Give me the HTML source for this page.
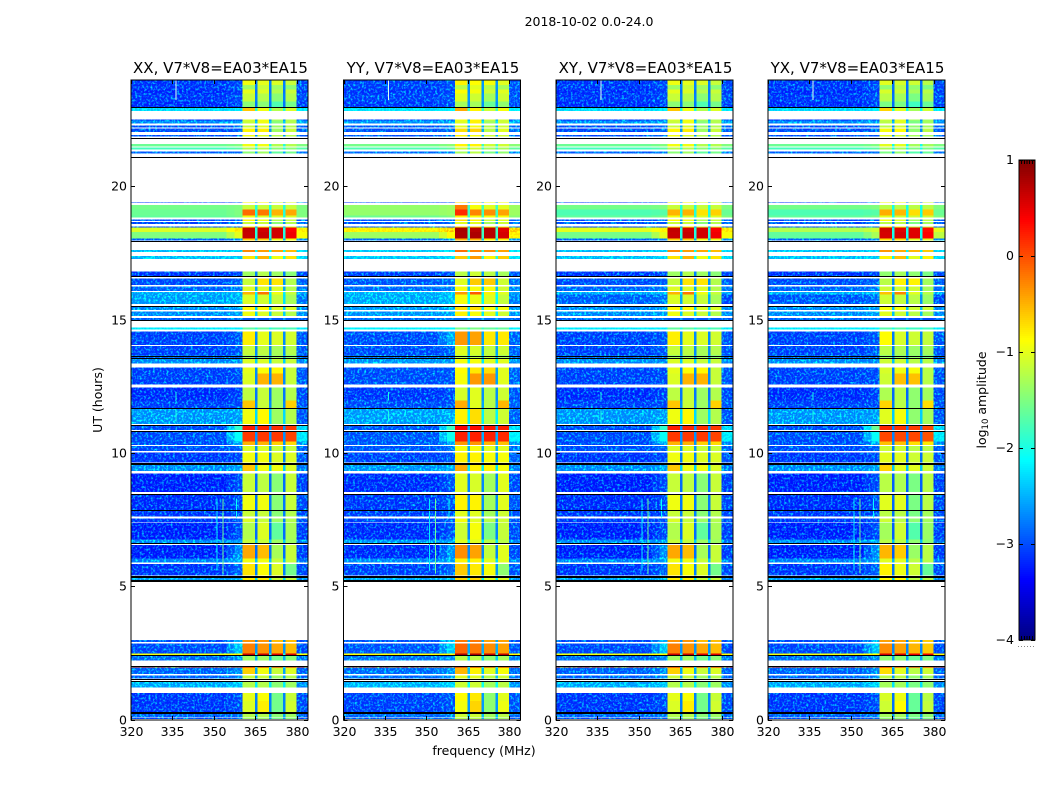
<!DOCTYPE html>
<html><head><meta charset="utf-8"><title>2018-10-02 amplitude waterfall</title>
<style>html,body{margin:0;padding:0;background:#fff}svg{display:block}text{font-family:"DejaVu Sans","Liberation Sans",sans-serif;fill:#000}</style>
</head><body>
<svg id="fig" width="1050" height="800" viewBox="0 0 1050 800" xmlns="http://www.w3.org/2000/svg">
<defs>
<filter id="speckle" x="0" y="0" width="100%" height="100%" color-interpolation-filters="sRGB">
<feTurbulence type="fractalNoise" baseFrequency="0.45" numOctaves="2" seed="4" result="n"/>
<feColorMatrix in="n" type="matrix" values="0 0 0 0 0  2 0 0 0 -0.92  0 0 0 0 0  0 0 0 0 1" result="g"/>
<feComposite in="SourceGraphic" in2="g" operator="arithmetic" k2="1" k3="1" result="sum"/>
<feComposite in="sum" in2="SourceGraphic" operator="in"/>
</filter>
</defs>
<text x="589" y="26" font-size="12.5" text-anchor="middle">2018-10-02 0.0-24.0</text>
<text x="484" y="755" font-size="12.5" text-anchor="middle">frequency (MHz)</text>
<text x="0" y="0" font-size="12.5" text-anchor="middle" transform="translate(102,400) rotate(-90)">UT (hours)</text>
<text x="0" y="0" font-size="12.5" text-anchor="middle" transform="translate(986,400) rotate(-90)">log<tspan font-size="8.5" dy="2">10</tspan><tspan dy="-2"> amplitude</tspan></text>
</svg>
<script>
const panelTitles = ['XX, V7*V8=EA03*EA15','YY, V7*V8=EA03*EA15','XY, V7*V8=EA03*EA15','YX, V7*V8=EA03*EA15'];
const xTicks = [320,335,350,365,380];
const yTicks = [0,5,10,15,20];
const colorTicks = [1,0,-1,-2,-3,-4];
const panelBgOffset = [0,0.05,0,0];
const panelBandOffset = [-0.05,0.08,-0.05,-0.12];
const freqEdges = [320,354.5,357.4,360.4,364.8,365.7,369.9,370.8,375,375.9,379.9,384];
// start hour, end hour, log10 amplitude: background, near-band, sub-band 1-4, right edge
const utRows = [
[23.81,24,-3.2,-3.1,-0.9,-0.95,-1,-1.1,-3.1],
[23.65,23.81,-3.2,-3.1,-1.3,-1.1,-1.3,-1.4,-3.1],
[23.5,23.65,-3.25,-3.15,-0.95,-1,-1.2,-1.1,-3.15],
[23.2,23.5,-3.2,-3.1,-1.1,-1.2,-1.4,-1.2,-3.1],
[22.98,23.2,-3.25,-3.15,-1.4,-1.4,-1.7,-1.5,-3.15],
[22.84,22.96,-2.4,-2.3,-0.55,-0.9,-1.2,-1,-2.3],
[22.475,22.525,-3.2,-3.1,-1,-0.9,-1.2,-1.2,-3.1],
[22.36,22.475,-2.8,-2.7,-1.1,-0.9,-1.4,-1.2,-2.7],
[22.225,22.3,-3.1,-3,-1.1,-1,-1.3,-1.2,-3],
[22.05,22.175,-3.1,-3,-0.8,-0.75,-1.3,-1.1,-3],
[21.89,21.94,-3.1,-3,-0.9,-1,-1.2,-1.2,-3],
[21.51,21.6,-1.6,-1.5,-0.9,-0.9,-1.2,-1.2,-1.5],
[21.4,21.475,-1.8,-1.7,-1.2,-1.2,-1.4,-1.4,-1.7],
[21.24,21.325,-3,-2.9,-1.4,-1.3,-1.6,-1.5,-2.9],
[19.38,19.41,-3.2,-3.1,-0.8,-0.8,-1,-1,-3],
[19.15,19.31,-1.55,-1.5,-1.1,-1.1,-1.1,-1.1,-1.5],
[18.91,19.15,-1.6,-1.5,-0.1,-0.15,-0.45,-0.4,-1.5],
[18.85,18.91,-1.65,-1.55,-0.9,-1,-1,-1,-1.5],
[18.72,18.76,-3.1,-3,-0.8,-0.9,-1.2,-1.1,-3],
[18.6,18.675,-3.1,-3,-1.1,-1.1,-1.4,-1.2,-3],
[18.475,18.51,-3.1,-3,-0.8,-0.8,-1,-1,-3],
[18.3,18.475,-1.05,-0.7,0.72,0.65,0.65,0.45,-0.75],
[18.05,18.3,-1.5,-1,0.7,0.7,0.65,0.5,-0.9],
[17.975,18.05,-3,-2.8,-0.6,-0.6,-0.9,-0.9,-2.8],
[17.55,17.625,-2.55,-2.45,-0.25,-0.35,-0.4,-0.5,-2.4],
[17.29,17.4,-2.55,-2.45,-0.7,-0.45,-0.9,-0.7,-2.4],
[16.65,16.825,-3.2,-3.1,-1.3,-1.2,-1.3,-1.4,-3.1],
[16.31,16.55,-3.1,-3,-1.1,-0.7,-0.7,-1.2,-3],
[16.09,16.25,-3,-2.9,-1,-1,-1,-1.2,-2.9],
[15.95,16.05,-2.65,-2.55,-0.45,-0.15,-0.9,-1.1,-2.7],
[15.6,15.95,-2.7,-2.6,-1,-1.05,-1.1,-1.25,-2.9],
[15.375,15.5,-2.8,-2.7,-0.8,-0.8,-1,-1,-2.8],
[15.15,15.31,-2.8,-2.7,-0.9,-1,-1.1,-1.2,-2.8],
[14.975,15.08,-3,-2.9,-2.9,-2.9,-2.9,-2.9,-3],
[14.65,14.725,-2.3,-2.25,-1.6,-1.6,-1.7,-1.7,-2.3],
[14.06,14.575,-3.15,-3.05,-0.75,-0.95,-1,-1.05,-3.05],
[13.69,14.025,-3.15,-3.05,-1.1,-1.15,-1.25,-1.2,-3.05],
[13.54,13.69,-3,-3,-1.3,-1.3,-1.3,-1.4,-3],
[13.375,13.54,-2.8,-2.8,-1,-1,-1.1,-1.1,-2.8],
[13,13.225,-3.15,-3.1,-0.95,-0.85,-0.8,-1.1,-3.05],
[12.59,13,-3.15,-3.1,-1,-0.45,-0.45,-1.1,-3.05],
[11.975,12.475,-3.25,-3.15,-1.15,-1.1,-1.3,-1.2,-3.1],
[11.7,11.975,-3.15,-3.1,-0.55,-1.1,-1.3,-0.6,-3.05],
[11.1,11.66,-2.75,-2.7,-0.9,-0.8,-1.3,-1.2,-3.05],
[10.875,11.05,-3.1,-1.9,0.3,0.25,0.2,0.15,-2.4],
[10.44,10.83,-3.1,-2.1,0.15,0.15,0.15,0.1,-2.3],
[10.31,10.44,-3.1,-2.7,-0.45,-0.45,-0.6,-0.65,-2.8],
[10.09,10.27,-3.1,-3,-1,-1,-1.1,-1.1,-3],
[9.65,10.03,-3.2,-3.1,-0.9,-0.9,-1,-1,-3.05],
[9.34,9.56,-2.8,-2.7,-0.55,-0.9,-0.9,-1,-2.9],
[8.55,9.25,-3.3,-3.1,-1.1,-1.15,-1.4,-1.1,-3.15],
[7.875,8.48,-3.25,-3.1,-0.9,-0.9,-1.4,-1.1,-3.1],
[7.63,7.875,-3.2,-3.1,-1.1,-1.1,-1.4,-1.2,-3.1],
[7.43,7.56,-3.2,-3.1,-1,-1.1,-1.3,-1.2,-3.1],
[6.775,7.4,-3.3,-3.1,-1.2,-1,-1.6,-1.25,-3.15],
[6.625,6.775,-2.8,-2.7,-1.1,-1.1,-1.3,-1.3,-2.9],
[6.06,6.56,-3.3,-2.8,-0.4,-0.5,-1.25,-1.1,-3.15],
[5.91,6.06,-2.85,-2.7,-0.9,-0.9,-1.1,-1.1,-2.9],
[5.425,5.85,-3.2,-3,-0.7,-0.85,-1,-1.5,-3.1],
[5.25,5.37,-2.7,-2.6,-0.75,-0.75,-1.1,-1.1,-2.8],
[2.925,3,-3.1,-2.6,-0.3,-0.3,-0.5,-0.5,-3.1],
[2.5,2.875,-3.1,-2.5,-0.2,-0.3,-0.4,-0.5,-3.1],
[2.44,2.5,-0.95,-0.8,0.7,0.7,0.6,0.6,-0.9],
[2.225,2.42,-2.95,-2.8,-1.3,-1.3,-1.5,-1.4,-2.9],
[1.975,2.02,0.05,0.1,0.55,0.55,0.5,0.5,0.1],
[1.72,1.96,-3,-2.8,-0.6,-0.9,-1.1,-1,-3],
[1.56,1.67,-3,-2.8,-1.1,-1.1,-1.3,-1.2,-3],
[1.22,1.42,-2.65,-2.5,-1.2,-1.2,-1.4,-1.3,-2.8],
[0.72,1.01,-3.2,-3.1,-0.95,-0.85,-1.5,-1.1,-3.1],
[0.29,0.72,-3.2,-3.1,-1,-0.75,-1.5,-1.05,-3.1],
[0.12,0.25,-3,-2.9,-1.2,-1.2,-1.4,-1.3,-3],
[0.04,0.1,-3.1,-3,-1.3,-1.3,-1.5,-1.4,-3.1]
];
// per-polarisation replacements: panel index, row start hour, levels (null keeps the shared value)
const overridePanels = [1,1,1,1,1,2,2,2,2,3,3,3,3,3];
const overrideStarts = [18.3,18.05,19.15,18.91,14.06,18.3,18.05,18.91,15.6,18.3,18.05,18.91,15.6,10.875];
const overrideLevels = [
[-0.8,-0.55,null,null,null,null,-0.6],
[-1.4,-0.9,null,null,null,null,-0.8],
[-1.45,-1.4,-0.3,-1,-1.1,-1.1,-1.4],
[-1.45,-1.4,0.1,-0.35,-0.4,-0.5,-1.4],
[null,-2.7,-0.45,-0.5,-0.85,-0.85,null],
[-1,-0.8,null,null,null,null,-0.7],
[-1.55,-1,null,null,null,null,-0.9],
[-1.75,-1.7,-0.45,-0.45,-0.7,-0.6,-1.6],
[-3,-2.9,null,null,null,null,-3.1],
[-1.25,-1.1,null,null,null,null,-1],
[-1.65,-1.3,null,null,null,null,-1.2],
[-1.75,-1.7,-0.35,-0.4,-0.6,-0.5,-1.6],
[-3.05,-2.95,null,null,null,null,-3.1],
[null,-1.6,null,null,null,null,null]
];
// masked (black) integrations: hour centre
const maskedHours = [22.97,21.81,21.11,17.96,16.64,15.54,15,13.66,13.575,11.69,11.075,10.85,8.475,7.86,6.65,2.44,2.02,1.53,1.46];
const maskedThickHours = [9.6,5.375,5.21,0.27];
// narrow RFI spikes: frequency, start hour, end hour, level
const rfiFreqs = [336,336,336,351,353,358];
const rfiStarts = [23.25,11.2,11.98,5.6,5.5,7.6];
const rfiEnds = [24,11.6,12.3,8.3,8.3,8.3];
const rfiLevels = [0.9,-2,-2,-2.2,-1.6,-2.1];

const SVGNS = 'http://www.w3.org/2000/svg';
const fig = document.getElementById('fig');
const panelLeft = [131,343.5,556,768];
const panelWidth = 177, plotTop = 80, plotBottom = 720;
const xScale = (f,p) => panelLeft[p] + (f-320)*panelWidth/64;
const yScale = h => plotBottom - h*(plotBottom-plotTop)/24;
const clamp = v => Math.max(0,Math.min(1,v));
function jet(v){
  const t = clamp((v+4)/5);
  const r = clamp(Math.min(4*t-1.5,-4*t+4.5));
  const g = clamp(Math.min(4*t-0.5,-4*t+3.5));
  const b = clamp(Math.min(4*t+0.5,-4*t+2.5));
  return 'rgb('+Math.round(r*255)+','+Math.round(g*255)+','+Math.round(b*255)+')';
}
function mk(tag,attrs,parent){
  const el = document.createElementNS(SVGNS,tag);
  for(const k in attrs) el.setAttribute(k,attrs[k]);
  (parent||fig).appendChild(el);
  return el;
}
function line(x1,y1,x2,y2,parent){
  return mk('line',{x1,y1,x2,y2,stroke:'#000','stroke-width':1,'shape-rendering':'crispEdges'},parent);
}
function rowLevels(row,p){
  const vals = row.slice(2);
  overridePanels.forEach((op,i)=>{
    if(op===p && overrideStarts[i]===row[0]){
      overrideLevels[i].forEach((v,j)=>{ if(v!==null) vals[j]=v; });
    }
  });
  return vals;
}

panelTitles.forEach((title,p)=>{
  const panel = mk('g',{});
  
  
  const bgGroup = mk('g',{filter:'url(#speckle)'},panel);
  
  
  const bandGroup = mk('g',{},panel);
  
  
  utRows.forEach(row=>{
    const t0=row[0], t1=row[1];
    const v = rowLevels(row,p);
    const bg=v[0], near=v[1], right=v[6];
    const notch = Math.min(bg+0.5,-1.9);
    const levels = [bg,(bg+near)/2,near,v[2],notch,v[3],notch,v[4],notch,v[5],right];
    levels.forEach((lv,c)=>{
      const isBg = (c<=2||c===10);
      const val = lv + (isBg?panelBgOffset[p]:panelBandOffset[p]);
      const x0 = xScale(freqEdges[c],p), x1 = xScale(freqEdges[c+1],p);
      const y0 = yScale(t1), y1 = yScale(t0);
      const cell = mk('rect',{x:x0,y:y0,width:x1-x0,height:y1-y0,fill:jet(val),'shape-rendering':'crispEdges'},isBg?bgGroup:bandGroup);
      
      
    });
  });
  rfiFreqs.forEach((f,i)=>{
    const spike = mk('rect',{x:xScale(f,p),y:yScale(rfiEnds[i]),width:1,height:yScale(rfiStarts[i])-yScale(rfiEnds[i]),fill:rfiLevels[i]>0.5?'#dfe':jet(rfiLevels[i]),'shape-rendering':'crispEdges'},panel);
    
    
  });
  maskedHours.forEach(h=>{
    const bar = mk('rect',{x:panelLeft[p],y:Math.round(yScale(h)),width:panelWidth,height:1,fill:'#000','shape-rendering':'crispEdges'},panel);
    
    
  });
  maskedThickHours.forEach(h=>{
    const bar = mk('rect',{x:panelLeft[p],y:Math.round(yScale(h))-1,width:panelWidth,height:2,fill:'#000','shape-rendering':'crispEdges'},panel);
    
    
  });
  const frame = mk('rect',{x:panelLeft[p],y:plotTop,width:panelWidth,height:plotBottom-plotTop,fill:'none',stroke:'#000','stroke-width':1},panel);
  
  
  xTicks.forEach(t=>{
    const x = Math.round(xScale(t,p))+0.5;
    const a = line(x,plotBottom,x,plotBottom-4,panel);
    
    
    const b = line(x,plotTop,x,plotTop+4,panel);
    
    
    const lab = mk('text',{x:x,y:736,'font-size':12.5,'text-anchor':'middle'},panel);
    lab.textContent = t;
    
    
  });
  yTicks.forEach(t=>{
    const y = Math.floor(yScale(t))+0.5;
    const a = line(panelLeft[p],y,panelLeft[p]+4,y,panel);
    
    
    const b = line(panelLeft[p]+panelWidth,y,panelLeft[p]+panelWidth-4,y,panel);
    
    
    const lab = mk('text',{x:panelLeft[p]-4,y:y+4,'font-size':12.5,'text-anchor':'end'},panel);
    lab.textContent = t;
    
    
  });
  const ttl = mk('text',{x:panelLeft[p]+panelWidth/2+1,y:73,'font-size':15,'text-anchor':'middle'},panel);
  ttl.textContent = title;
  
  
});

const cbLeft=1019, cbWidth=16, cbTop=160, cbBottom=640, cbMax=1, cbMin=-4;
const cbY = v => cbTop + (cbMax-v)*(cbBottom-cbTop)/(cbMax-cbMin);
const colorbar = mk('g',{});


for(let y=cbTop;y<cbBottom;y+=2){
  const v = cbMax-(y+1-cbTop)*(cbMax-cbMin)/(cbBottom-cbTop);
  const s = mk('rect',{x:cbLeft,y:y,width:cbWidth,height:2,fill:jet(v),'shape-rendering':'crispEdges'},colorbar);
  
  
}
const cbFrame = mk('rect',{x:cbLeft,y:cbTop,width:cbWidth,height:cbBottom-cbTop,fill:'none',stroke:'#000','stroke-width':1},colorbar);


colorTicks.forEach(t=>{
  const y = Math.floor(cbY(t))+0.5;
  const a = line(cbLeft,y,cbLeft+4,y,colorbar);
  
  
  const b = line(cbLeft+cbWidth,y,cbLeft+cbWidth-4,y,colorbar);
  
  
  const lab = mk('text',{x:cbLeft-5,y:y+3.5,'font-size':12.5,'text-anchor':'end'},colorbar);
  lab.textContent = String(t).replace('-','\u2212');
  
  
});
for(let i=1;i<6;i++){
  const x = cbLeft+i*cbWidth/6;
  const a = line(x,cbTop,x,cbTop+4,colorbar);
  
  
  const b = line(x,cbBottom,x,cbBottom-4,colorbar);
  
  
}
const dots = mk('line',{x1:1018,y1:646.5,x2:1035,y2:646.5,stroke:'#888','stroke-width':1,'stroke-dasharray':'1 2'},colorbar);


</script>
</body></html>
